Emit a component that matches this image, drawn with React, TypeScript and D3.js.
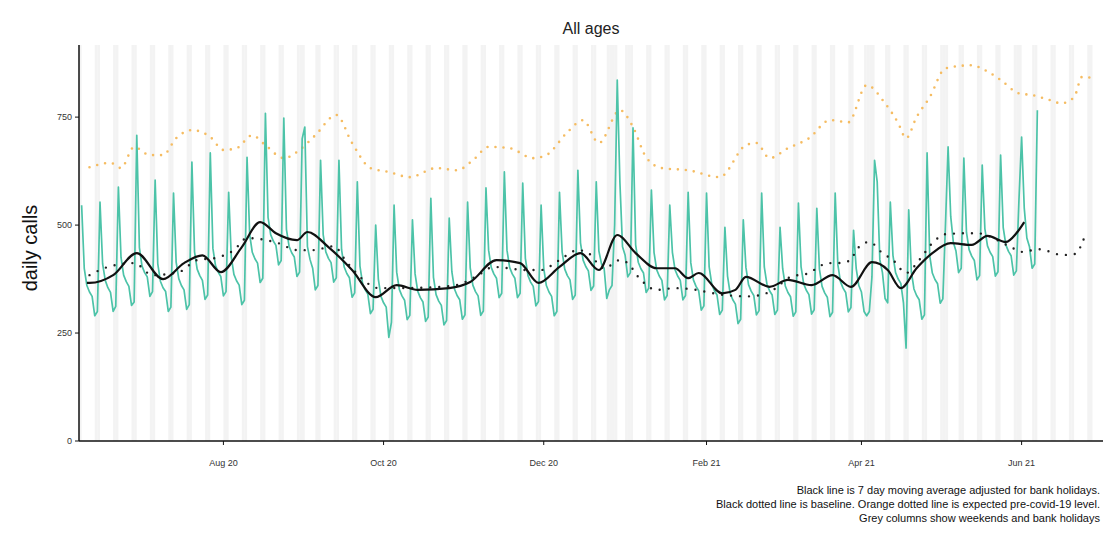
import React from "react";
import * as d3 from "d3";

const START = new Date(2020, 5, 7);
const DATA_START = new Date(2020, 5, 8);
const END = new Date(2021, 6, 2);

// daily calls from Mon 8 Jun 2020 (weeks Mon..Sun)
const daily: number[] = [
  546,400,360,345,335,290,300,
  553,410,372,355,344,300,312,
  588,425,384,369,358,314,322,
  708,448,405,390,380,335,346,
  604,410,370,355,346,300,310,
  574,414,376,360,350,305,316,
  646,438,398,383,372,328,338,
  667,446,406,391,381,336,346,
  576,426,386,371,361,316,326,
  657,478,437,422,412,367,377,
  759,518,478,463,453,408,418,
  748,490,451,436,426,381,391,
  700,727,450,420,400,350,360,
  650,478,438,423,413,368,378,
  650,443,403,388,378,333,343,
  600,405,365,350,340,295,305,
  500,375,335,320,310,240,275,
  546,391,351,336,326,281,291,
  512,387,347,332,322,277,287,
  562,379,339,324,314,269,279,
  516,392,352,337,327,282,292,
  553,401,361,346,336,291,301,
  586,442,402,387,377,332,342,
  623,442,402,387,377,332,342,
  597,423,383,368,358,313,323,
  546,400,360,345,335,290,300,
  576,438,398,383,373,328,338,
  627,459,419,404,394,349,359,
  600,440,410,400,330,350,360,
  500,836,600,450,430,380,390,
  725,454,414,399,389,344,354,
  581,437,397,382,372,327,337,
  546,437,397,382,372,327,337,
  576,413,373,358,348,303,313,
  574,403,363,348,338,293,303,
  495,382,342,327,317,272,282,
  512,402,362,347,337,292,302,
  574,403,363,348,338,293,303,
  495,399,359,344,334,289,299,
  551,404,364,349,339,294,304,
  539,398,358,343,333,288,298,
  574,409,369,354,344,299,309,
  488,400,360,345,300,290,300,
  380,650,600,420,390,330,320,
  553,430,390,375,365,320,215,
  535,392,352,337,327,282,292,
  667,429,389,374,364,319,329,
  500,681,520,460,440,390,400,
  655,483,443,428,418,373,383,
  639,492,452,437,427,382,392,
  662,494,454,439,429,384,394,
  560,704,540,470,450,400,410,
  766,
];

// days since 7 Jun 2020
const maDays = [3,4,13,22,32,40,47,54,62,69,75,83,87,95,104,113,121,129,141,149,159,168,175,183,191,198,205,212,220,227,232,236,245,250,254,263,270,279,287,294,302,308,313,319,325,332,340,346,353,357,360];
const maVals = [366,366,384,435,375,412,430,391,449,507,481,465,484,449,396,333,361,350,354,368,419,412,366,403,435,396,477,435,400,400,377,389,342,350,380,357,373,361,384,357,414,396,354,400,435,458,454,475,461,481,507];

const baseDays = [4,11,21,28,38,45,52,59,64,76,83,89,97,102,111,114,130,143,151,158,170,176,183,190,194,200,206,209,213,220,227,235,239,246,255,263,271,278,281,285,289,294,296,301,306,310,315,320,325,330,338,342,355,359,366,370,374,378,381,382,385];
const baseVals = [384,403,412,384,391,419,424,442,470,458,442,442,451,414,361,354,355,360,380,403,396,396,419,442,435,400,419,412,380,350,354,350,345,338,335,345,380,389,400,412,412,419,442,461,435,419,389,419,458,479,481,481,449,438,444,438,431,431,442,465,470];

const expDays = [4,12,16,21,27,32,37,43,50,55,60,66,71,78,84,90,98,104,111,118,126,136,144,150,156,164,173,178,186,192,198,206,211,216,222,232,244,254,258,263,270,278,286,293,300,307,312,315,319,324,330,340,345,351,358,363,370,374,379,382,387];
const expVals = [634,644,632,681,662,662,701,720,704,674,678,708,685,655,674,708,755,690,632,623,611,632,627,650,681,678,655,662,715,743,690,766,727,657,632,627,611,685,690,655,678,701,743,738,824,782,736,701,750,796,863,870,859,836,805,801,789,782,796,843,840];

const bankHolidays = ["2020-08-31","2020-12-25","2020-12-28","2021-01-01","2021-04-02","2021-04-05","2021-05-03","2021-05-31"];
const yTicks = [0, 250, 500, 750];
const xTickDates = ["2020-08-01","2020-10-01","2020-12-01","2021-02-01","2021-04-01","2021-06-01"];
const captions = [
  "Black line is 7 day moving average adjusted for bank holidays.",
  "Black dotted line is baseline. Orange dotted line is expected pre-covid-19 level.",
  "Grey columns show weekends and bank holidays",
];

const W = 1105, H = 533;
const L = 79, R = 1103, T = 45, B = 441;

function parse(s: string) { const [y, m, d] = s.split("-").map(Number); return new Date(y, m - 1, d); }
function addDays(d0: Date, n: number) { return new Date(d0.getFullYear(), d0.getMonth(), d0.getDate() + n); }

export default function App() {
  const x = d3.scaleTime().domain([START, END]).range([L, R]);
  const y = d3.scaleLinear().domain([0, 917]).range([B, T]);
  const fmt = d3.timeFormat("%b %y");

  const shaded: Date[] = [];
  for (let d = START; d < END; d = addDays(d, 1)) {
    const wd = d.getDay();
    if (wd === 0 || wd === 6) shaded.push(d);
  }
  bankHolidays.forEach((s) => shaded.push(parse(s)));

  const tealPts = daily.map((v, i) => [x(addDays(DATA_START, i)), y(v)] as [number, number]);
  const line = d3.line<[number, number]>().curve(d3.curveLinear);
  const smooth = d3.line<[number, number]>().curve(d3.curveMonotoneX);
  const ma = maDays.map((dd, i) => [x(addDays(START, dd)), y(maVals[i])] as [number, number]);
  const base = baseDays.map((dd, i) => [x(addDays(START, dd)), y(baseVals[i])] as [number, number]);
  const exp = expDays.map((dd, i) => [x(addDays(START, dd)), y(expVals[i])] as [number, number]);

  return (
    <svg width={W} height={H} style={{ display: "block", position: "absolute", left: 0, top: 0 }} fontFamily="Liberation Sans, Arial, sans-serif">
      <rect width={W} height={H} fill="#fff" />
      <text x={591} y={34} fontSize={16} textAnchor="middle" fill="#222">All ages</text>
      {shaded.map((d, i) => {
        const x0 = x(d), x1 = x(addDays(d, 1));
        return <rect key={i} x={x0} y={T} width={x1 - x0} height={B - T} fill="#ebebeb" opacity={0.6} />;
      })}
      <path d={smooth(exp) || ""} fill="none" stroke="#f5bc62" strokeWidth={2.6} strokeDasharray="0 8" strokeLinecap="round" />
      <path d={line(tealPts) || ""} fill="none" stroke="#4cc3a8" strokeWidth={1.7} strokeLinejoin="round" />
      <path d={smooth(base) || ""} fill="none" stroke="#222" strokeWidth={2.4} strokeDasharray="0 9" strokeLinecap="round" />
      <path d={smooth(ma) || ""} fill="none" stroke="#111" strokeWidth={2.2} strokeLinejoin="round" />
      <line x1={L} x2={L} y1={T} y2={B} stroke="#111" strokeWidth={1.5} />
      <line x1={L} x2={R} y1={B} y2={B} stroke="#111" strokeWidth={1.5} />
      {yTicks.map((t) => (
        <g key={t}>
          <line x1={L - 4} x2={L} y1={y(t)} y2={y(t)} stroke="#111" />
          <text x={L - 7} y={y(t) + 3} fontSize={9} textAnchor="end" fill="#333">{t}</text>
        </g>
      ))}
      {xTickDates.map((s) => {
        const xx = x(parse(s));
        return (
          <g key={s}>
            <line x1={xx} x2={xx} y1={B} y2={B + 4} stroke="#111" />
            <text x={xx} y={B + 25} fontSize={9} textAnchor="middle" fill="#333">{fmt(parse(s))}</text>
          </g>
        );
      })}
      <text transform={`translate(37,${(T + B) / 2 + 5}) rotate(-90)`} fontSize={20} textAnchor="middle" fill="#111">daily calls</text>
      {captions.map((c, i) => (
        <text key={i} x={1100} y={494 + i * 14} fontSize={11} textAnchor="end" fill="#111">{c}</text>
      ))}
    </svg>
  );
}
